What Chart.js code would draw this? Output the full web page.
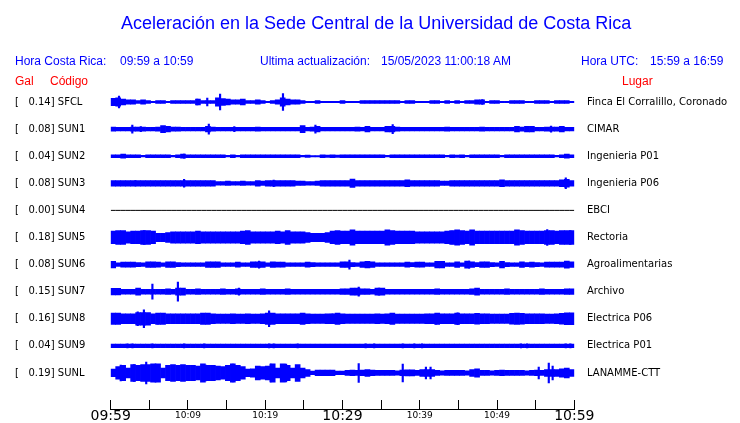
<!DOCTYPE html>
<html>
<head>
<meta charset="utf-8">
<script src="https://cdn.jsdelivr.net/npm/chart.js@4.4.0/dist/chart.umd.min.js"></script>
<style>
    body { margin: 0; background: #fff; }
    #wrap { position: relative; width: 740px; height: 423px; }
    #myChart { position: absolute; left: 0; top: 0; }
    .txt { position: absolute; white-space: pre; font-family: 'Liberation Sans', Arial, sans-serif; font-size: 12px; color: #0000ff; }
    .title { font-size: 18px; }
    .red { color: #ff0000; }
</style>
</head>
<body>
<div id="wrap">
    <canvas id="myChart" width="740" height="423"></canvas>
    <div class="txt title" style="left:121px;top:13px">Aceleración en la Sede Central de la Universidad de Costa Rica</div>
    <div class="txt" style="left:15px;top:54px">Hora Costa Rica:</div>
    <div class="txt" style="left:120px;top:54px">09:59 a 10:59</div>
    <div class="txt" style="left:260px;top:54px">Ultima actualización:</div>
    <div class="txt" style="left:381px;top:54px">15/05/2023 11:00:18 AM</div>
    <div class="txt" style="left:581px;top:54px">Hora UTC:</div>
    <div class="txt" style="left:650px;top:54px">15:59 a 16:59</div>
    <div class="txt red" style="left:15px;top:74px">Gal</div>
    <div class="txt red" style="left:50px;top:74px">Código</div>
    <div class="txt red" style="left:622px;top:74px">Lugar</div>
</div>
<script>
// stations, top to bottom
var codes = ['SFCL', 'SUN1', 'SUN2', 'SUN3', 'SUN4', 'SUN5', 'SUN6', 'SUN7', 'SUN8', 'SUN9', 'SUNL'];
var peaks = [0.14, 0.08, 0.04, 0.08, 0.00, 0.18, 0.08, 0.15, 0.16, 0.04, 0.19];
var places = ['Finca El Corralillo, Coronado', 'CIMAR', 'Ingenieria P01', 'Ingenieria P06', 'EBCI', 'Rectoria',
    'Agroalimentarias', 'Archivo', 'Electrica P06', 'Electrica P01', 'LANAMME-CTT'];

// x axis: minutes after 09:59, labels every 10 min
var tickLabels = ['09:59', '10:09', '10:19', '10:29', '10:39', '10:49', '10:59'];

// envelope (typical half amplitude) of each trace, 93 samples over the hour
var sfcl = [2.7,3,2,1.5,1.5,1,1.5,1,0.5,1, 1,0.5,1,1,1,1,1,2,1,1, 1,3,2.5,2,1.5,1.5,2,1,1,1.5,
    1,0.5,1,1.5,3,2,1.5,1.5,1,0.5, 0.5,1,0.5,0.5,0.5,0.5,1,0.5,0.5,0.5, 1,1,1,1,1,1,1,1,0.5,1,
    1,0.5,0.5,0.5,1,1,0.5,1,0.5,1, 0.5,1,1,1.5,1.5,0.5,1,1,0.5,0.5, 1,1,1,0.5,0.5,1,1,1,0.5,1, 1,1,0.5];
var sun1 = [1.5,1.3,1.3,1.3,1.5,1.5,1.5,1.3,1.3,1.5, 2.5,2,1.5,1.5,1.3,1.3,1.3,1.3,1.3,2,
    1.5,1.3,1.3,1.3,1.3,1.3,1.3,1.3,1.3,1.5, 1.3,1.3,1.3,1.3,1.3,1.3,1.3,1.3,2.5,1.3,
    1.5,2,1.3,1.3,1.3,1.3,1.3,1.3,1.3,1.5, 1.3,2,1.3,1.3,1.3,2,2,1.5,1.3,1.3,
    1.3,1.3,1.3,1.3,1.3,1.3,1.3,1.5,1.3,1.3, 1.3,1.3,1.3,1.3,1.5,1.3,1.3,1.3,1.3,1.3,
    1.3,2,1.5,2,2,1.3,1.3,1.5,1.5,1.5, 2,1.3,1.3];
var sun2 = [1,1,1.5,1,1,1,0.6,1,1,1, 1,1,0.6,1,1.5,1,1,1,1,1, 1,1,1,0.6,1,0.6,1,1,1,1,
    1,1,1,1,1,1,1,1,0.6,0.8, 0.5,0.5,1,0.8,1,0.8,1,1,1,1, 1,1,1,1,1,0.6,1,1,1,1,
    1,1,1,1,1,1,1,0.6,1,0.8, 1,0.6,1,1,1,1,1,1,0.6,1, 1,1,1,1,1,1,1,1,1,0.6, 1,1.5,1];
var sun3 = [2,2,2,2,2,2,2,2,2,2, 2,2,2,2,2,2,2,2,2,2, 2,1.3,1.3,1.5,1.3,1.3,1.5,1.3,1.3,2,
    1.5,2,2,2,2,2,2,1.5,1.5,1.3, 1.3,1.5,2,2,2,2,2,2,3,2, 2,2,2,2,2,2,2,2,2,2.5,
    2,2,2,2,2,2,1.5,1.5,2,2, 2,2,2,2,2,2,2,2,2.5,2, 2,2,2,2,2,2,2,2,2,2, 2.5,2.8,2];
var sun4 = [0,0,0,0,0,0,0,0,0,0, 0,0,0,0,0,0,0,0,0,0, 0,0,0,0,0,0,0,0,0,0, 0,0,0,0,0,0,0,0,0,0,
    0,0,0,0,0,0,0,0,0,0, 0,0,0,0,0,0,0,0,0,0, 0,0,0,0,0,0,0,0,0,0, 0,0,0,0,0,0,0,0,0,0,
    0,0,0,0,0,0,0,0,0,0, 0,0,0];
var sun5 = [4.5,5,5,4,4.5,4.5,5,5,4.5,3, 3,3.5,4,4,4,4,4,4.5,4,4, 4,4,4,4,4,4,4.5,5,4,4,
    4,4,4,4.5,4,5,4,4,4,3.5, 3,3,3,3.5,4.5,5,4.5,4.5,5.5,4.5, 4.5,4.5,4.5,4.5,4.5,5.5,5,4.5,4.5,4.5,
    4.5,4,4,4,4,4,4,4.5,5,5.5, 5,4.5,5.5,4.5,4.5,4.5,4.5,4.5,4.5,4.5, 4.5,5.5,5,4.5,4.5,4.5,4.5,5,5,4.5, 5,5,5];
var sun6 = [2.3,1.3,1.8,1.8,1.8,1.5,1.3,2,2,1.8, 1.3,2,2,1.5,1.3,1.3,1.3,1.3,1.3,2,
    2,2,1.3,1.3,1.3,1.8,1.3,1.3,2,2, 2,1.3,2,1.8,1.8,1.3,1.3,1.3,1.3,1.8,
    1.5,1.3,1.3,1.3,1.3,1.3,2,2,1.5,1.3, 2,2.3,2,1.3,1.3,1.3,1.3,1.3,1.3,1.8,
    1.5,1.8,1.8,1.3,1.3,2.3,2.3,1.3,1.3,2, 1.3,2.5,2,1.5,2,2,1.5,1.3,2.3,1.5,
    1.3,1.3,2,1.5,1.8,1.5,1.3,1.8,1.8,1.8, 1.8,2.5,2];
var sun7 = [2.3,2.3,1.7,1.7,1.7,2.5,1.7,1.7,1.7,1.7, 1.7,2,1.7,2.5,2.5,1.7,1.7,2,1.7,1.7,
    1.7,1.7,2,1.7,1.7,2,1.7,1.7,1.7,1.7, 2,1.7,1.7,1.7,1.7,2,1.7,1.7,1.7,1.7,
    1.7,1.7,1.7,1.7,1.7,1.7,2,2,2.5,2.5, 2,2,1.7,2.5,2.5,1.7,1.7,1.7,1.7,1.7,
    1.7,1.7,1.7,1.7,1.7,2,1.7,1.7,1.7,1.7, 1.7,1.7,2,2.5,1.7,1.7,1.7,1.7,1.7,2,
    1.7,1.7,1.7,1.7,1.7,1.7,2,1.7,1.7,1.7, 1.7,2,2];
var sun8 = [4,4,3.5,3.5,3.5,4.5,4.5,4.5,3.5,4, 4,3.5,3.5,3.5,3.5,3.5,3.5,3.5,4,4,
    3.5,3.3,3.3,3.3,3.5,3.3,3.3,3.5,3.3,3.3, 3.5,4,4,3.5,3.5,3.5,3.5,3.5,4,3.5,
    3.3,3.3,3.3,3.5,3.5,4,3.5,3.3,3.3,3.3, 3.3,3.3,3.3,3.5,3.3,3.5,4,3.3,3.3,3.3,
    3.3,3.3,3.3,3.5,3.5,4,3.5,3.5,3.5,4, 3.5,3.5,3.5,3.8,3.5,3.5,3.3,3.3,3.3,3.3,
    3.8,4,3.8,3.5,3.5,3.5,3.5,3.3,3.3,3.5, 3.8,4.2,4.2];
var sun9 = [1.3,1.3,1.3,1.3,1.3,1.3,1.3,1.3,1.3,1.3, 1.3,1.3,1.3,1.3,1.3,1.3,1.3,1.3,1.3,1.3,
    1.3,1.3,1.3,1.3,1.3,1.3,1.3,1.3,1.3,1.3, 1.3,1.3,1.3,1.3,1.3,1.3,1.3,1.3,1.3,1.3,
    1.3,1.3,1.3,1.3,1.3,1.3,1.3,1.3,1.3,1.3, 1.3,1.3,1.3,1.3,1.3,1.3,1.3,1.3,1.3,1.3,
    1.3,1.3,1.3,1.3,1.3,1.3,1.3,1.3,1.3,1.3, 1.3,1.3,1.3,1.3,1.3,1.3,1.3,1.3,1.3,1.3,
    1.3,1.3,1.3,1.3,1.3,1.3,1.3,1.3,1.3,1.3, 1.3,1.3,1.3];
var sunl = [2.7,4.5,5.5,3.5,6,5.5,6,6,6.5,6.5, 3.5,5.5,6,5.5,6,5.5,5.5,5,6.5,5.5,
    5.5,5,4.5,5.5,6.5,5.5,4.5,2.7,3,5, 4.5,5,6.5,3.5,6.5,5.5,3.5,6,3.5,2.5,
    1.3,2,2,2,2,1.3,1.3,1.8,2,1.8, 2,2.5,2,1.8,1.8,1.8,1.8,1.5,2,2.2,
    2.2,1.8,2.5,2.5,2.5,1.8,1.5,1.8,1.8,1.8, 1.8,1.5,2.5,3,1.8,1.8,1.5,1.8,2,1.8,
    1.8,1.8,1.8,1.5,1.8,2,1.8,2.5,2.5,2.5, 3,3.5,2.5];

// single-sample spikes: [minute, peak half amplitude]
var sfclSpikes = [[0.98, 6], [11.1, 3], [12.4, 4], [14.06, 8], [22.2, 8.5], [48.0, 2.5]];
var sun1Spikes = [[2.7, 4], [3.8, 2.5], [12.6, 5], [15.9, 2.5], [26.4, 4], [36.4, 4.5], [56.9, 3]];
var sun2Spikes = [[9.4, 2]];
var sun3Spikes = [[3.1, 2.7], [9.4, 4], [21.0, 3.3], [58.8, 5.5]];
var sun4Spikes = [];
var sun5Spikes = [[4.2, 7], [17.2, 6], [22.8, 6], [31.0, 6], [35.9, 6.5], [44.1, 6.5], [52.3, 6.5], [56.4, 8], [59.4, 7]];
var sun6Spikes = [[19.1, 3.5], [30.8, 4.5], [46.3, 3.5]];
var sun7Spikes = [[3.4, 3], [5.3, 7.5], [8.6, 9.5], [16.5, 3.5], [32.0, 4.5], [34.6, 3.5]];
var sun8Spikes = [[3.4, 7], [4.2, 9], [6.0, 5.5], [20.4, 8], [28.6, 5], [42.0, 5.5], [44.8, 6], [59.2, 5]];
var sun9Spikes = [[2.07, 2], [2.72, 2], [5.3, 2], [9.4, 2], [12.0, 2], [20.4, 2], [21.0, 2], [24.1, 2], [32.9, 2],
    [34.0, 2], [37.7, 2], [39.2, 2], [40.2, 2], [53.0, 2], [53.8, 2], [58.8, 2], [59.4, 2]];
var sunlSpikes = [[1.2, 8], [2.9, 8.5], [4.5, 11], [5.7, 9], [12.2, 8], [15.7, 9], [20.6, 9], [22.6, 9], [32.0, 9.5],
    [37.7, 9], [40.7, 6], [41.3, 6], [55.3, 6], [56.6, 10], [57.1, 7]];

var traces = [sfcl, sun1, sun2, sun3, sun4, sun5, sun6, sun7, sun8, sun9, sunl];
var spikes = [sfclSpikes, sun1Spikes, sun2Spikes, sun3Spikes, sun4Spikes, sun5Spikes, sun6Spikes,
    sun7Spikes, sun8Spikes, sun9Spikes, sunlSpikes];
var spikeGain = 1 / 27.1;          // amplitude units per trace row
var envGain = 1.4 * spikeGain;     // typical level drawn out to the filled look of the trace
var minutes = 60;

window.onload = function() {
    var datasets = [];
    traces.forEach(function(amp, row) {
        var n = amp.length;
        var step = minutes / n;
        if (peaks[row] === 0) {
            // dead channel: flat black line across the hour
            datasets.push({
                type: 'line',
                xAxisID: 'xs',
                data: amp.map(function(v, i) { return {x: i * minutes / (n - 1), y: row + v * envGain}; }),
                borderColor: '#000000',
                borderWidth: 1,
                pointRadius: 0
            });
            return;
        }
        datasets.push({
            type: 'bar',
            data: amp.map(function(v, i) { return {x: (i + 0.5) * step, y: [row - v * envGain, row + v * envGain]}; }),
            backgroundColor: '#0000ff',
            borderWidth: 0,
            grouped: false,
            barPercentage: 1,
            categoryPercentage: 1
        });
        if (spikes[row].length) {
            // all spike sets share one slot, fixed 1.5px width
            datasets.push({
                type: 'bar',
                xAxisID: 'xs',
                stack: 'spikes',
                data: spikes[row].map(function(s) { return {x: s[0], y: [row - s[1] * spikeGain, row + s[1] * spikeGain]}; }),
                backgroundColor: '#0000ff',
                borderWidth: 0,
                barThickness: 1.5
            });
        }
    });

    var stationTicks = function(scale) {
        scale.ticks = codes.map(function(c, i) { return {value: i}; });
    };

    var ctx = document.getElementById('myChart').getContext('2d');
    var myChart = new Chart(ctx, {
        data: { datasets: datasets },
        options: {
            responsive: false,
            animation: false,
            devicePixelRatio: 1,
            layout: { padding: { top: 74.9, left: 15, right: 0, bottom: 0 } },
            plugins: { legend: { display: false }, tooltip: { enabled: false }, title: { display: false } },
            scales: {
                x: {
                    type: 'linear',
                    position: 'bottom',
                    offset: false,
                    min: 0,
                    max: minutes,
                    grid: { offset: false, drawOnChartArea: false, drawTicks: true, tickLength: -9, color: '#000', tickColor: '#000' },
                    border: { display: true, color: '#000', width: 1 },
                    ticks: {
                        stepSize: 5,
                        autoSkip: false,
                        maxRotation: 0,
                        padding: 8,
                        color: '#000',
                        callback: function(value) {
                            return value % 10 === 0 ? tickLabels[value / 10] : '';
                        },
                        font: function(c) {
                            var v = c.tick ? c.tick.value : 0;
                            return v % 30 === 0
                                ? { family: 'DejaVu Sans', size: 14, lineHeight: 1.15 }
                                : { family: 'DejaVu Sans', size: 9, lineHeight: 1.7 };
                        }
                    },
                    afterFit: function(s) { s.height = 14; }
                },
                xs: {
                    type: 'linear',
                    display: false,
                    offset: false,
                    min: 0,
                    max: minutes
                },
                y: {
                    type: 'linear',
                    position: 'left',
                    reverse: true,
                    stacked: false,
                    min: -1,
                    max: 11.33,
                    grid: { display: false, drawTicks: false },
                    border: { display: false },
                    afterBuildTicks: stationTicks,
                    ticks: {
                        crossAlign: 'far',
                        padding: 0,
                        color: '#000',
                        font: { family: 'DejaVu Sans', size: 10 },
                        callback: function(value) {
                            return '[   ' + peaks[value].toFixed(2) + '] ' + codes[value];
                        }
                    },
                    afterFit: function(s) { s.width = 95.7; }
                },
                y2: {
                    type: 'linear',
                    position: 'right',
                    reverse: true,
                    min: -1,
                    max: 11.33,
                    grid: { display: false, drawTicks: true, tickLength: 12.7 },
                    border: { display: false },
                    afterBuildTicks: stationTicks,
                    ticks: {
                        padding: 0,
                        color: '#000',
                        font: { family: 'DejaVu Sans', size: 10 },
                        callback: function(value) { return places[value]; }
                    },
                    afterFit: function(s) { s.width = 165.7; }
                }
            }
        }
    });
};
</script>
</body>
</html>
